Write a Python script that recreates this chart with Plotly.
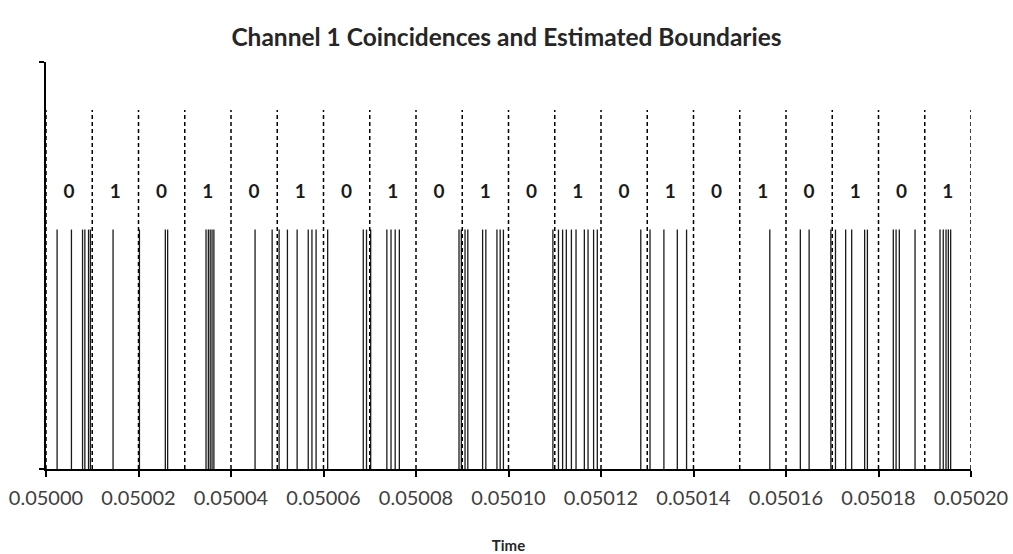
import plotly.graph_objects as go

# Coincidence times on channel 1 (seconds)
coincidence_times = [
    0.0500024, 0.0500055, 0.0500079, 0.0500084, 0.0500092, 0.0500096,
    0.0500145,
    0.0500202, 0.0500258, 0.0500263,
    0.0500346, 0.0500351, 0.0500355, 0.0500359, 0.0500363,
    0.0500452, 0.0500489,
    0.0500504, 0.0500522, 0.0500543, 0.0500567, 0.0500575, 0.0500584,
    0.0500609, 0.0500686, 0.0500693,
    0.0500702, 0.0500737, 0.0500746, 0.0500755, 0.0500764,
    0.0500893, 0.0500898,
    0.0500906, 0.0500912, 0.0500944, 0.0500951, 0.0500975, 0.0500982, 0.0500989,
    0.0501096,
    0.0501108, 0.0501117, 0.0501125, 0.0501136, 0.0501146, 0.0501164, 0.0501172, 0.0501184, 0.0501192,
    0.0501286,
    0.0501306, 0.0501336, 0.0501365, 0.0501385,
    0.0501565,
    0.0501631, 0.0501650, 0.0501697,
    0.0501707, 0.0501729, 0.0501742, 0.0501770, 0.0501776,
    0.0501832, 0.0501838, 0.0501845, 0.0501879,
    0.0501933, 0.0501940, 0.0501946, 0.0501951, 0.0501956,
]

# Estimated bit boundaries and the decoded bit in each slot
boundaries = [0.05000 + i * 0.00001 for i in range(21)]
bits = [0, 1, 0, 1, 0, 1, 0, 1, 0, 1, 0, 1, 0, 1, 0, 1, 0, 1, 0, 1]

# Axis ticks
x_ticks = [0.05000, 0.05002, 0.05004, 0.05006, 0.05008, 0.05010,
           0.05012, 0.05014, 0.05016, 0.05018, 0.05020]
x_tick_labels = ["0.05000", "0.05002", "0.05004", "0.05006", "0.05008", "0.05010",
                 "0.05012", "0.05014", "0.05016", "0.05018", "0.05020"]

EVENT_HEIGHT = 1.0
BOUNDARY_HEIGHT = 1.5
LABEL_HEIGHT = 1.15
Y_MAX = 1.7

FONT = "Lato, Open Sans, sans-serif"


def stems(xs, height):
    px, py = [], []
    for x in xs:
        px += [x, x, None]
        py += [0, height, None]
    return px, py


fig = go.Figure()

ex, ey = stems(coincidence_times, EVENT_HEIGHT)
fig.add_trace(go.Scatter(x=ex, y=ey, mode="lines",
                         line=dict(color="#1a1a1a", width=1.3),
                         hoverinfo="skip", showlegend=False))

bx, by = stems(boundaries, BOUNDARY_HEIGHT)
fig.add_trace(go.Scatter(x=bx, y=by, mode="lines",
                         line=dict(color="#000000", width=1.5, dash="4px,3px"),
                         hoverinfo="skip", showlegend=False))

mids = [(boundaries[i] + boundaries[i + 1]) / 2 for i in range(len(bits))]
fig.add_trace(go.Scatter(x=mids, y=[LABEL_HEIGHT] * len(bits), mode="text",
                         text=[f"<b>{b}</b>" for b in bits],
                         textfont=dict(family=FONT, size=19, color="#1a1a1a"),
                         hoverinfo="skip", showlegend=False))

fig.update_layout(
    width=1013, height=554,
    margin=dict(l=45.5, r=41.5, t=62, b=85, autoexpand=False),
    paper_bgcolor="white", plot_bgcolor="white",
    title=dict(text="<b>Channel 1 Coincidences and Estimated Boundaries</b>",
               x=0.5, xref="container", xanchor="center",
               y=1 - 37 / 554, yref="container", yanchor="middle",
               font=dict(family=FONT, size=24.5, color="#262626")),
    font=dict(family=FONT, color="#404040"),
)

fig.update_xaxes(
    range=[0.05000, 0.05020],
    tickvals=x_ticks, ticktext=x_tick_labels,
    ticks="outside", ticklen=6, tickwidth=1.5, tickcolor="#000000",
    ticklabelstandoff=4,
    tickfont=dict(size=20, color="#404040"),
    showline=True, linecolor="#000000", linewidth=1.8,
    showgrid=False, zeroline=False, automargin=False,
    title=dict(text="<b>Time</b>", standoff=34,
               font=dict(size=15, color="#262626")),
)

fig.update_yaxes(
    range=[0, Y_MAX],
    tickvals=[0, Y_MAX], showticklabels=False,
    ticks="outside", ticklen=5, tickwidth=1.5, tickcolor="#000000",
    showline=True, linecolor="#000000", linewidth=1.8,
    showgrid=False, zeroline=False, automargin=False,
)

fig.write_html("out.html")
